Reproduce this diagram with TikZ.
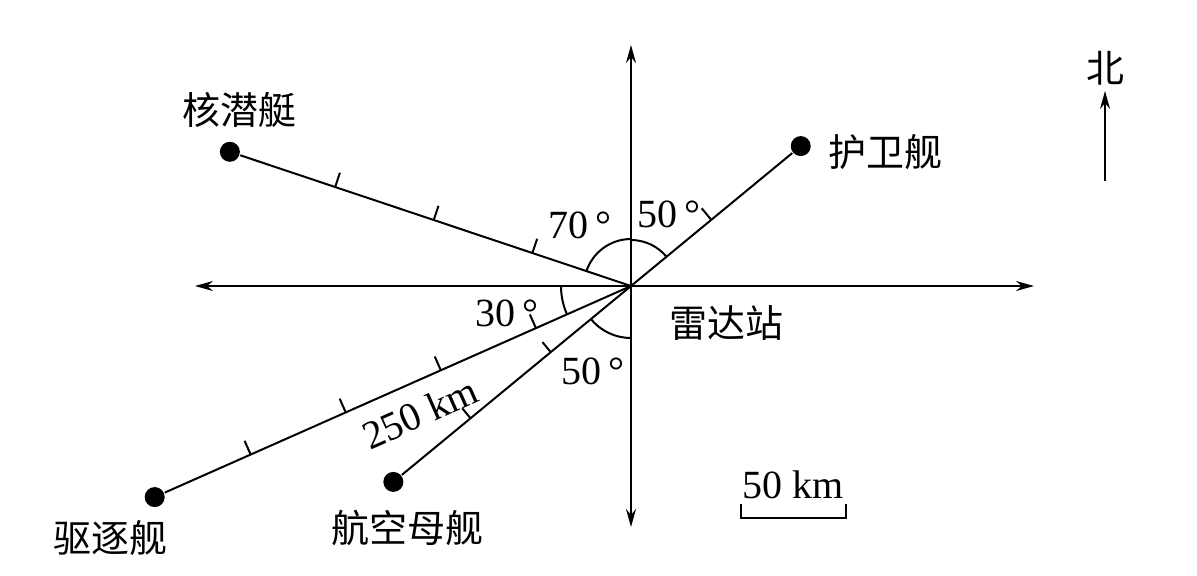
\documentclass[tikz,border=0pt]{standalone}
\usepackage{fontspec}
\setmainfont{Liberation Serif}
\newfontfamily\cjk{Noto Sans CJK SC}
\usetikzlibrary{arrows.meta}
\usetikzlibrary{positioning}

\begin{document}
\begin{tikzpicture}[x=0.5pt,y=0.5pt,line width=1pt,
    >={Stealth[length=9pt,width=5pt]},
    every node/.style={font=\fontsize{20}{22}\selectfont,inner sep=0pt},
    ship/.style={circle,fill,minimum size=10pt},
    shipname/.style={font=\fontsize{19}{22}\selectfont\cjk}]
  \useasboundingbox (-631,-289) rectangle (566,286);
  \coordinate (radar) at (0,0);
  \coordinate (w) at (-436,0);
  \coordinate (e) at (403,0);
  \coordinate (n) at (0,241);
  \coordinate (s) at (0,-241);
  \draw[<->] (w) -- (e);
  \draw[<->] (s) -- (n);

  % ships, 104 units = 50 km
  \node[ship] (sub)  at (161.5:423) {};
  \node[ship] (frig) at (39.5:220)  {};
  \node[ship] (dest) at (203.9:521) {};
  \node[ship] (carr) at (219.5:308) {};
  \node[shipname,above=6pt of sub,xshift=5pt]      (subname)  {核潜艇};
  \node[shipname,right=8pt of frig,yshift=-3pt]    (frigname) {护卫舰};
  \node[shipname,below=5.5pt of dest,xshift=-22pt] (destname) {驱逐舰};
  \node[shipname,below=8pt of carr,xshift=7pt]     (carrname) {航空母舰};
  \node[shipname] (radarname) at (95,-37) {雷达站};
  \path
    (radar) edge (sub)
    (radar) edge (frig)
    (radar) edge (dest)
    (radar) edge (carr);

  % ticks
  \foreach \i in {1,2,3} \draw (161.5:{\i*104}) -- ++(71.5:15);
  \draw (39.5:104) -- ++(129.5:15);
  \foreach \i in {1,...,4} \draw (203.9:{\i*104}) -- ++(113.9:15);
  \foreach \i in {1,2} \draw (219.5:{\i*104}) -- ++(129.5:13);

  % angles
  \draw ([shift={(90:23.5pt)}]radar) arc[start angle=90,end angle=161.5,radius=23.5pt];
  \draw ([shift={(39.5:23pt)}]radar) arc[start angle=39.5,end angle=90,radius=23pt];
  \draw ([shift={(180:35pt)}]radar) arc[start angle=180,end angle=203.9,radius=35pt];
  \draw ([shift={(219.5:26pt)}]radar) arc[start angle=219.5,end angle=270,radius=26pt];
  \node (a70) at (-51,61)   {70\,°};
  \node (a50n) at (38,72)   {50\,°};
  \node (a30) at (-124,-27) {30\,°};
  \node (a50s) at (-38,-85) {50\,°};
  \node[rotate=24] (dist) at (-211,-127) {250 km};

  % scale and north
  \node (scale) at (162,-199) {50 km};
  \coordinate (barL) at (110,-232);
  \coordinate (barR) at (215,-232);
  \draw (barL) ++(0,14) -- (barL) -- (barR) -- ++(0,14);
  \node[shipname] (north) at (474,218) {北};
  \coordinate (ntail) at (474,105);
  \draw[->,shorten >=2.5pt] (ntail) -- (north);
\end{tikzpicture}
\end{document}
